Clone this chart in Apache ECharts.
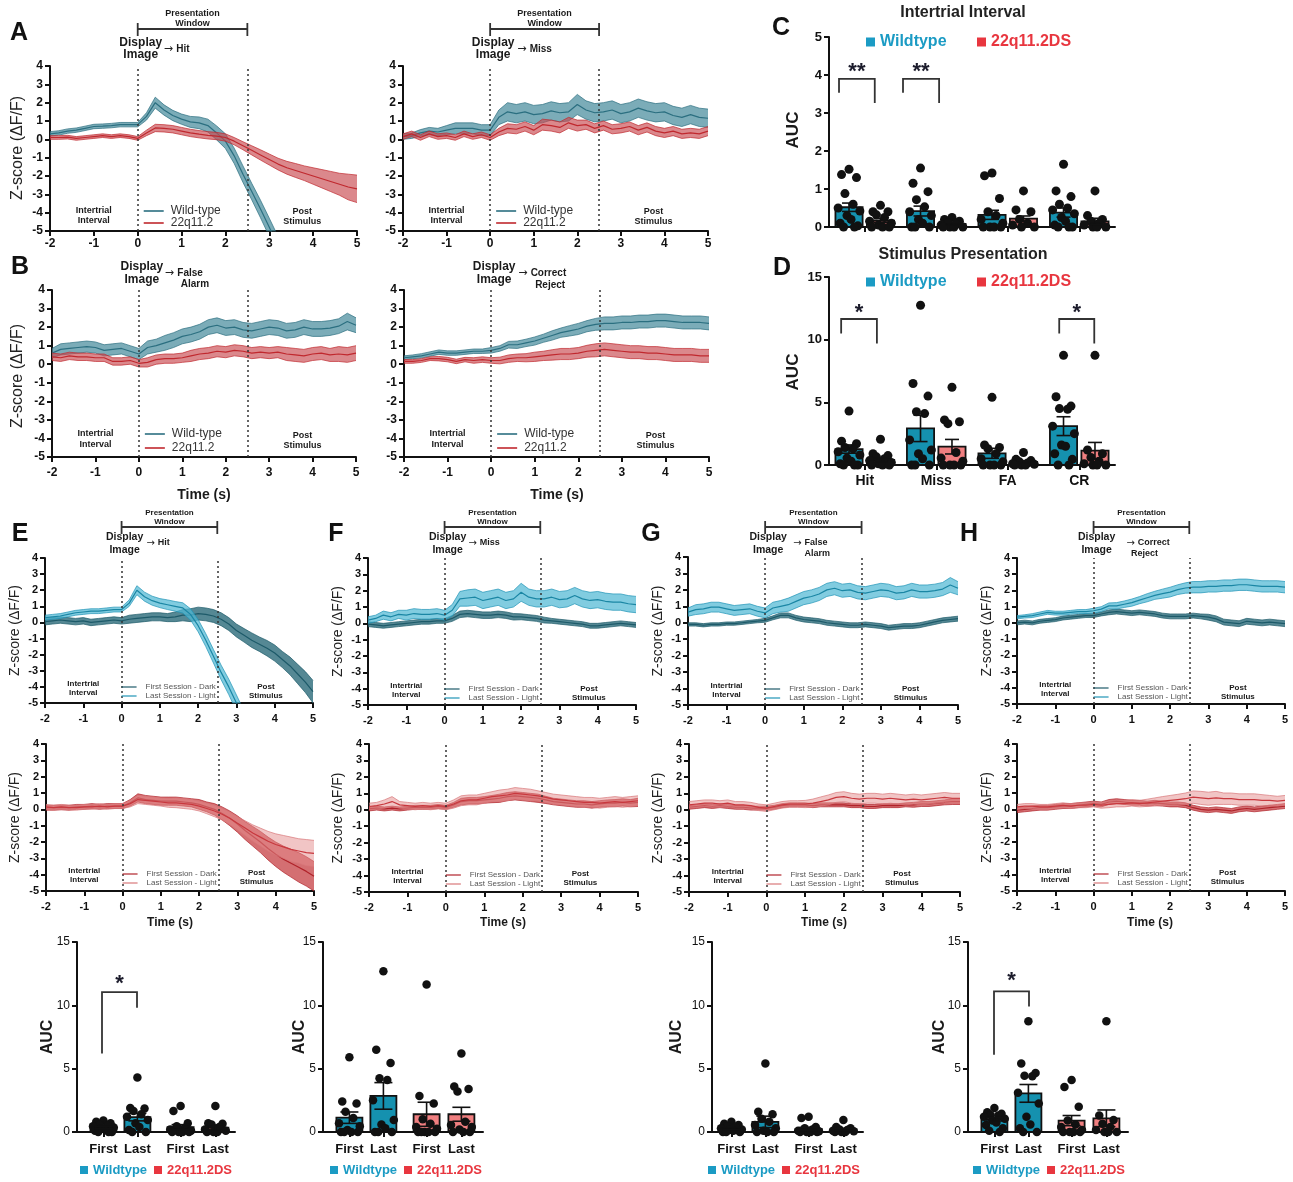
<!DOCTYPE html>
<html><head><meta charset="utf-8">
<script src="https://cdn.jsdelivr.net/npm/echarts@6/dist/echarts.min.js"></script>
<style>html,body{margin:0;padding:0;background:#fff}#main{width:1293px;height:1182px}</style>
</head><body><div id="main"></div>
<script>
// ---------------- DATA ----------------
const TIME = [-2,-1.8,-1.6,-1.4,-1.2,-1,-0.8,-0.6,-0.4,-0.2,0,0.2,0.4,0.6,0.8,1,1.2,1.4,1.6,1.8,2,2.2,2.4,2.6,2.8,3,3.2,3.4,3.6,3.8,4,4.2,4.4,4.6,4.8,5];
const OUTCOMES = ['Hit','Miss','FA','CR'];
const SESSIONS = ['First','Last','First','Last'];

// Panel A - Hit
const A_HIT_WT = [0.3,0.35,0.45,0.5,0.6,0.7,0.72,0.75,0.8,0.8, 0.8,1.25,2.0,1.6,1.3,1.1,0.95,0.9,0.75,0.35, -0.1,-0.9,-1.9,-2.85,-3.8,-4.8,-5.8,null,null,null, null,null,null,null,null,null];
const A_HIT_WT_SEM = [0.12,0.12,0.12,0.12,0.12,0.12,0.12,0.12,0.12,0.12, 0.12,0.2,0.3,0.28,0.28,0.28,0.3,0.32,0.35,0.38, 0.4,0.42,0.45,0.45,0.48,0.5,0.5,null,null,null, null,null,null,null,null,null];
const A_HIT_22Q = [0.1,0.1,0.12,0.05,0.1,0.15,0.2,0.15,0.2,0.15, 0.05,0.35,0.62,0.6,0.55,0.45,0.35,0.28,0.22,0.18, 0.1,-0.1,-0.35,-0.6,-0.85,-1.1,-1.35,-1.55,-1.7,-1.85, -2.0,-2.15,-2.3,-2.45,-2.6,-2.7];
const A_HIT_22Q_SEM = [0.1,0.1,0.1,0.1,0.1,0.1,0.1,0.1,0.1,0.1, 0.1,0.15,0.2,0.2,0.2,0.2,0.2,0.2,0.2,0.2, 0.2,0.2,0.22,0.25,0.28,0.3,0.32,0.35,0.38,0.4, 0.45,0.5,0.55,0.6,0.7,0.75];
// Panel A - Miss
const A_MISS_WT = [0.15,0.2,0.35,0.45,0.4,0.5,0.6,0.6,0.6,0.5, 0.5,1.2,1.5,1.4,1.5,1.35,1.4,1.55,1.45,1.5, 1.9,1.6,1.45,1.5,1.6,1.4,1.5,1.7,1.55,1.45, 1.5,1.3,1.2,1.35,1.2,1.15];
const A_MISS_WT_SEM = [0.15,0.15,0.18,0.2,0.2,0.25,0.3,0.3,0.3,0.3, 0.3,0.4,0.5,0.5,0.5,0.5,0.5,0.5,0.5,0.5, 0.55,0.5,0.5,0.5,0.5,0.5,0.5,0.5,0.5,0.5, 0.5,0.5,0.5,0.5,0.5,0.5];
const A_MISS_22Q = [0.15,0.3,0.1,0.3,0.15,0.2,0.1,0.3,0.15,0.25, 0.1,0.4,0.6,0.55,0.7,0.5,0.8,0.75,0.65,0.9, 0.75,0.8,0.6,0.75,0.55,0.6,0.7,0.5,0.65,0.45, 0.35,0.45,0.3,0.35,0.3,0.45];
const A_MISS_22Q_SEM = [0.15,0.15,0.15,0.15,0.15,0.15,0.15,0.15,0.15,0.15, 0.15,0.2,0.25,0.25,0.25,0.25,0.3,0.3,0.3,0.3, 0.3,0.25,0.25,0.25,0.25,0.25,0.25,0.25,0.25,0.25, 0.25,0.25,0.25,0.25,0.25,0.25];
// Panel B - False Alarm
const B_FA_WT = [0.6,0.8,0.85,0.9,0.95,0.9,0.75,0.8,0.85,0.7, 0.55,0.9,1.0,1.15,1.3,1.5,1.6,1.75,2.0,2.1, 1.95,2.0,1.85,1.8,1.9,2.0,1.95,1.8,1.85,2.0, 1.9,1.9,1.95,2.05,2.3,2.1];
const B_FA_WT_SEM = [0.25,0.3,0.3,0.3,0.3,0.3,0.3,0.3,0.3,0.3, 0.3,0.35,0.35,0.4,0.4,0.4,0.4,0.4,0.4,0.4, 0.4,0.4,0.4,0.4,0.4,0.4,0.4,0.4,0.4,0.4, 0.4,0.4,0.4,0.4,0.45,0.4];
const B_FA_22Q = [0.4,0.35,0.45,0.4,0.4,0.35,0.35,0.15,0.15,0.2, 0.05,0.1,0.25,0.3,0.3,0.35,0.45,0.55,0.6,0.7, 0.65,0.75,0.7,0.6,0.65,0.6,0.65,0.55,0.5,0.45, 0.55,0.6,0.5,0.55,0.5,0.6];
const B_FA_22Q_SEM = [0.2,0.2,0.2,0.2,0.2,0.2,0.2,0.2,0.2,0.2, 0.2,0.25,0.25,0.25,0.25,0.25,0.3,0.3,0.3,0.3, 0.3,0.3,0.3,0.3,0.3,0.3,0.3,0.35,0.35,0.35, 0.35,0.35,0.35,0.4,0.4,0.4];
// Panel B - Correct Reject
const B_CR_WT = [0.35,0.4,0.45,0.55,0.65,0.6,0.6,0.65,0.7,0.7, 0.75,0.85,1.05,1.05,1.15,1.25,1.4,1.55,1.7,1.8, 1.9,2.05,2.15,2.2,2.2,2.25,2.25,2.3,2.3,2.35, 2.35,2.3,2.25,2.25,2.25,2.2];
const B_CR_WT_SEM = [0.1,0.1,0.12,0.12,0.12,0.12,0.12,0.12,0.12,0.12, 0.15,0.15,0.18,0.2,0.2,0.22,0.22,0.25,0.25,0.28, 0.3,0.3,0.32,0.35,0.35,0.35,0.35,0.35,0.35,0.35, 0.35,0.35,0.35,0.35,0.35,0.35];
const B_CR_22Q = [0.15,0.15,0.2,0.3,0.3,0.25,0.15,0.25,0.2,0.25, 0.2,0.2,0.3,0.35,0.35,0.4,0.45,0.5,0.55,0.55, 0.6,0.7,0.75,0.8,0.75,0.7,0.65,0.65,0.6,0.6, 0.55,0.5,0.5,0.5,0.45,0.45];
const B_CR_22Q_SEM = [0.1,0.1,0.1,0.1,0.12,0.12,0.12,0.12,0.15,0.15, 0.15,0.18,0.2,0.2,0.22,0.25,0.25,0.28,0.3,0.3, 0.3,0.32,0.35,0.35,0.35,0.35,0.35,0.35,0.35,0.35, 0.35,0.35,0.35,0.35,0.35,0.35];

// Panel E - Hit, first vs last session
const E_WT_FIRST = [0.05,0.1,0.15,0.1,0.05,0.1,0.0,0.05,0.1,0.15, 0.1,0.2,0.25,0.3,0.35,0.35,0.3,0.35,0.45,0.45, 0.55,0.5,0.4,0.2,-0.1,-0.5,-0.8,-1.1,-1.35,-1.6, -1.9,-2.3,-2.7,-3.2,-3.7,-4.3];
const E_WT_FIRST_SEM = [0.2,0.2,0.2,0.2,0.2,0.2,0.2,0.2,0.2,0.2, 0.2,0.25,0.25,0.25,0.25,0.25,0.25,0.3,0.35,0.4, 0.4,0.4,0.4,0.4,0.4,0.4,0.42,0.45,0.45,0.48, 0.5,0.5,0.55,0.6,0.65,0.7];
const E_WT_LAST = [0.3,0.35,0.4,0.5,0.6,0.65,0.7,0.7,0.75,0.8, 0.8,1.2,2.0,1.6,1.35,1.2,1.1,1.0,0.9,0.5, -0.2,-1.1,-2.1,-3.1,-4.0,-5.0,-6.0,null,null,null, null,null,null,null,null,null];
const E_WT_LAST_SEM = [0.15,0.15,0.15,0.15,0.15,0.15,0.15,0.15,0.15,0.15, 0.15,0.2,0.28,0.28,0.28,0.28,0.3,0.3,0.32,0.35, 0.38,0.4,0.42,0.45,0.48,0.5,0.5,null,null,null, null,null,null,null,null,null];
const E_22Q_FIRST = [0.1,0.1,0.12,0.1,0.15,0.15,0.2,0.15,0.2,0.2, 0.2,0.4,0.7,0.6,0.55,0.5,0.5,0.5,0.45,0.4, 0.3,0.15,0.0,-0.25,-0.55,-0.9,-1.3,-1.65,-2.0,-2.4, -2.75,-3.05,-3.3,-3.55,-3.8,-4.1];
const E_22Q_FIRST_SEM = [0.15,0.15,0.15,0.15,0.15,0.15,0.15,0.15,0.15,0.15, 0.15,0.2,0.25,0.25,0.25,0.25,0.25,0.25,0.25,0.25, 0.3,0.3,0.35,0.4,0.45,0.5,0.55,0.6,0.65,0.7, 0.75,0.8,0.85,0.9,0.9,0.9];
const E_22Q_LAST = [0.15,0.1,0.15,0.1,0.1,0.15,0.15,0.2,0.15,0.2, 0.2,0.35,0.6,0.55,0.5,0.45,0.4,0.4,0.35,0.3, 0.2,0.05,-0.1,-0.3,-0.55,-0.85,-1.15,-1.45,-1.7,-1.95, -2.15,-2.3,-2.45,-2.55,-2.65,-2.7];
const E_22Q_LAST_SEM = [0.15,0.15,0.15,0.15,0.15,0.15,0.15,0.15,0.15,0.15, 0.15,0.2,0.25,0.25,0.25,0.25,0.28,0.3,0.3,0.3, 0.3,0.32,0.35,0.35,0.38,0.4,0.45,0.5,0.55,0.6, 0.65,0.7,0.75,0.75,0.8,0.8];
// Panel F - Miss
const F_WT_FIRST = [-0.05,-0.1,-0.15,-0.1,-0.05,0.0,0.05,0.1,0.1,0.15, 0.15,0.3,0.55,0.6,0.55,0.5,0.5,0.55,0.5,0.4, 0.4,0.35,0.3,0.2,0.15,0.1,0.05,0.0,-0.05,-0.15, -0.15,-0.1,-0.05,0.0,-0.05,-0.1];
const F_WT_FIRST_SEM = [0.15,0.15,0.15,0.15,0.15,0.15,0.15,0.15,0.15,0.15, 0.15,0.18,0.2,0.2,0.2,0.2,0.2,0.2,0.2,0.2, 0.18,0.18,0.18,0.18,0.15,0.15,0.15,0.15,0.15,0.15, 0.15,0.15,0.15,0.15,0.15,0.15];
const F_WT_LAST = [0.2,0.3,0.5,0.4,0.55,0.5,0.6,0.55,0.55,0.6, 0.5,0.8,1.5,1.55,1.6,1.4,1.5,1.6,1.4,1.5, 1.9,1.6,1.5,1.5,1.6,1.45,1.5,1.7,1.5,1.4, 1.45,1.35,1.3,1.3,1.2,1.15];
const F_WT_LAST_SEM = [0.2,0.2,0.25,0.25,0.25,0.3,0.3,0.3,0.3,0.3, 0.3,0.35,0.45,0.5,0.5,0.5,0.5,0.5,0.5,0.5, 0.55,0.5,0.5,0.5,0.5,0.5,0.5,0.5,0.5,0.5, 0.5,0.5,0.5,0.5,0.5,0.5];
const F_22Q_FIRST = [0.05,0.1,0.05,0.1,0.05,0.1,0.15,0.15,0.15,0.2, 0.15,0.3,0.5,0.55,0.55,0.6,0.65,0.7,0.8,0.85, 0.8,0.75,0.7,0.6,0.5,0.45,0.4,0.35,0.35,0.3, 0.35,0.4,0.4,0.45,0.4,0.45];
const F_22Q_FIRST_SEM = [0.12,0.12,0.12,0.12,0.12,0.12,0.12,0.12,0.12,0.12, 0.12,0.15,0.2,0.2,0.2,0.2,0.22,0.25,0.25,0.25, 0.25,0.25,0.25,0.22,0.2,0.2,0.2,0.2,0.2,0.2, 0.2,0.2,0.22,0.22,0.22,0.25];
const F_22Q_LAST = [0.2,0.25,0.35,0.5,0.3,0.25,0.2,0.25,0.2,0.25, 0.2,0.35,0.55,0.6,0.6,0.7,0.8,0.85,0.9,1.0, 0.95,0.9,0.85,0.75,0.65,0.6,0.55,0.5,0.45,0.45, 0.4,0.45,0.5,0.45,0.5,0.55];
const F_22Q_LAST_SEM = [0.2,0.2,0.25,0.3,0.2,0.2,0.2,0.2,0.2,0.2, 0.2,0.25,0.3,0.3,0.3,0.3,0.3,0.35,0.35,0.35, 0.35,0.35,0.3,0.3,0.3,0.3,0.3,0.3,0.3,0.3, 0.3,0.3,0.3,0.3,0.3,0.3];
// Panel G - False Alarm
const G_WT_FIRST = [-0.1,-0.1,-0.15,-0.1,-0.1,-0.05,-0.05,0.0,0.05,0.1, 0.15,0.3,0.45,0.45,0.3,0.2,0.15,0.1,0.0,-0.05, -0.1,-0.15,-0.15,-0.1,-0.15,-0.2,-0.3,-0.25,-0.2,-0.2, -0.15,-0.05,0.05,0.15,0.2,0.25];
const G_WT_FIRST_SEM = [0.1,0.1,0.1,0.1,0.1,0.1,0.1,0.1,0.1,0.1, 0.12,0.12,0.15,0.15,0.15,0.15,0.15,0.15,0.15,0.15, 0.15,0.15,0.15,0.15,0.15,0.15,0.15,0.15,0.15,0.15, 0.15,0.15,0.15,0.15,0.15,0.15];
const G_WT_LAST = [0.65,0.8,0.85,0.95,0.95,0.85,0.75,0.8,0.85,0.7, 0.6,0.9,1.0,1.1,1.3,1.5,1.6,1.75,2.0,2.1, 1.95,2.0,1.85,1.8,1.9,2.0,1.95,1.8,1.85,2.0, 1.9,1.9,1.95,2.05,2.3,2.1];
const G_WT_LAST_SEM = [0.25,0.3,0.3,0.3,0.3,0.3,0.3,0.3,0.3,0.3, 0.3,0.35,0.35,0.4,0.4,0.4,0.4,0.4,0.4,0.4, 0.4,0.4,0.4,0.4,0.4,0.4,0.4,0.4,0.4,0.4, 0.4,0.4,0.4,0.4,0.45,0.4];
const G_22Q_FIRST = [0.15,0.2,0.25,0.2,0.25,0.2,0.15,0.15,0.1,0.1, 0.1,0.15,0.25,0.3,0.3,0.3,0.25,0.3,0.3,0.3, 0.3,0.25,0.25,0.2,0.2,0.25,0.25,0.25,0.3,0.3, 0.35,0.35,0.4,0.45,0.5,0.5];
const G_22Q_FIRST_SEM = [0.12,0.12,0.12,0.12,0.12,0.12,0.12,0.12,0.12,0.12, 0.12,0.12,0.12,0.12,0.12,0.12,0.12,0.12,0.12,0.12, 0.12,0.12,0.12,0.12,0.12,0.12,0.12,0.12,0.12,0.15, 0.15,0.15,0.15,0.15,0.18,0.18];
const G_22Q_LAST = [0.3,0.35,0.4,0.4,0.35,0.4,0.3,0.3,0.25,0.15, 0.1,0.2,0.3,0.35,0.35,0.35,0.4,0.5,0.6,0.75, 0.8,0.7,0.65,0.7,0.7,0.65,0.7,0.65,0.6,0.65, 0.6,0.65,0.7,0.75,0.7,0.7];
const G_22Q_LAST_SEM = [0.2,0.2,0.2,0.2,0.2,0.2,0.2,0.2,0.2,0.2, 0.2,0.2,0.2,0.2,0.2,0.22,0.25,0.28,0.3,0.3, 0.3,0.3,0.3,0.3,0.3,0.3,0.3,0.3,0.3,0.3, 0.3,0.3,0.3,0.3,0.3,0.3];
// Panel H - Correct Reject
const H_WT_FIRST = [0.0,0.05,0.0,0.1,0.15,0.2,0.3,0.35,0.4,0.45, 0.45,0.55,0.65,0.7,0.65,0.6,0.65,0.6,0.55,0.45, 0.4,0.4,0.4,0.45,0.4,0.35,0.25,0.05,0.0,-0.05, 0.1,0.05,0.0,0.05,0.0,-0.05];
const H_WT_FIRST_SEM = [0.12,0.12,0.12,0.12,0.12,0.12,0.12,0.12,0.12,0.12, 0.12,0.12,0.15,0.15,0.15,0.15,0.15,0.15,0.15,0.15, 0.15,0.15,0.15,0.15,0.15,0.18,0.18,0.18,0.18,0.18, 0.18,0.18,0.18,0.18,0.18,0.18];
const H_WT_LAST = [0.35,0.4,0.45,0.55,0.65,0.6,0.6,0.65,0.7,0.7, 0.75,0.85,1.05,1.05,1.15,1.25,1.4,1.55,1.7,1.8, 1.9,2.05,2.15,2.2,2.2,2.25,2.25,2.3,2.3,2.35, 2.35,2.3,2.25,2.25,2.25,2.2];
const H_WT_LAST_SEM = [0.1,0.1,0.12,0.12,0.12,0.12,0.12,0.12,0.12,0.12, 0.15,0.15,0.18,0.2,0.2,0.22,0.22,0.25,0.25,0.28, 0.3,0.3,0.32,0.35,0.35,0.35,0.35,0.35,0.35,0.35, 0.35,0.35,0.35,0.35,0.35,0.35];
const H_22Q_FIRST = [-0.05,0.0,0.05,0.1,0.1,0.15,0.2,0.2,0.25,0.3, 0.35,0.3,0.45,0.5,0.45,0.4,0.4,0.35,0.4,0.35, 0.3,0.3,0.25,0.1,0.0,-0.05,0.0,-0.05,-0.1,0.0, 0.05,0.0,0.05,0.1,0.15,0.2];
const H_22Q_FIRST_SEM = [0.15,0.15,0.15,0.15,0.15,0.15,0.15,0.15,0.15,0.15, 0.15,0.15,0.15,0.15,0.15,0.15,0.15,0.15,0.15,0.15, 0.15,0.15,0.15,0.15,0.15,0.15,0.15,0.15,0.15,0.15, 0.15,0.15,0.15,0.15,0.15,0.15];
const H_22Q_LAST = [0.15,0.2,0.2,0.15,0.15,0.2,0.25,0.2,0.25,0.25, 0.3,0.25,0.3,0.35,0.35,0.4,0.35,0.4,0.45,0.5, 0.55,0.6,0.65,0.75,0.7,0.65,0.7,0.65,0.65,0.6, 0.6,0.6,0.55,0.55,0.5,0.55];
const H_22Q_LAST_SEM = [0.15,0.15,0.15,0.15,0.15,0.15,0.15,0.15,0.15,0.15, 0.15,0.18,0.2,0.2,0.2,0.2,0.2,0.22,0.25,0.28, 0.3,0.32,0.35,0.38,0.4,0.4,0.4,0.35,0.35,0.35, 0.35,0.35,0.35,0.3,0.3,0.3];

// Panel C - AUC intertrial interval
const C_WT_MEAN = [0.52,0.42,0.32,0.38];
const C_WT_SEM = [0.11,0.13,0.12,0.12];
const C_22Q_MEAN = [0.17,0.08,0.22,0.15];
const C_22Q_SEM = [0.05,0.03,0.07,0.08];
const C_WT_PTS = [[1.52,1.38,1.3,0.88,0.6,0.5,0.42,0.3,0.2,0.1,0.03,0,0],[1.55,1.15,0.93,0.72,0.53,0.4,0.3,0.2,0.1,0,0,0],[1.42,1.35,0.75,0.4,0.3,0.2,0.1,0,0,0,0],[1.65,0.95,0.8,0.6,0.5,0.45,0.35,0.25,0.15,0.05,0,0,0]];
const C_22Q_PTS = [[0.57,0.4,0.4,0.32,0.25,0.15,0.1,0.05,0,0,0],[0.25,0.2,0.15,0.12,0.08,0.05,0,0,0,0],[0.95,0.45,0.4,0.2,0.1,0.05,0,0],[0.95,0.3,0.2,0.15,0.1,0.05,0,0,0]];
// Panel D - AUC stimulus presentation
const D_WT_MEAN = [1.27,2.92,0.93,3.1];
const D_WT_SEM = [0.33,1.05,0.4,0.75];
const D_22Q_MEAN = [0.4,1.46,0.25,1.14];
const D_22Q_SEM = [0.15,0.58,0.1,0.66];
const D_WT_PTS = [[4.3,1.9,1.7,1.4,1.3,1.05,0.8,0.55,0.3,0.1,0,0,0],[12.75,6.5,5.5,4.25,4.1,2.0,1.2,0.9,0.5,0,0,0],[5.4,1.6,1.4,1.3,0.9,0.5,0.25,0,0,0,0],[8.75,5.45,4.7,4.5,4.45,3.1,2.5,1.6,1.5,0.9,0.45,0,0]];
const D_22Q_PTS = [[2.05,0.9,0.75,0.65,0.5,0.35,0.2,0.1,0,0,0],[6.2,3.6,3.45,3.3,1.0,0.55,0.3,0,0,0,0],[1.0,0.45,0.35,0.25,0.15,0.1,0.05,0,0,0],[8.75,1.2,0.9,0.6,0.3,0.1,0,0,0]];
// Panels E-H - AUC first vs last (WT first, WT last, 22q first, 22q last)
const E_MEAN = [0.35,1.18,0.38,0.35];
const E_SEM = [0.08,0.3,0.2,0.2];
const E_PTS = [[0.9,0.8,0.7,0.6,0.5,0.45,0.35,0.3,0.2,0.1,0,0,0],[4.3,1.9,1.85,1.65,1.4,1.2,0.95,0.7,0.4,0.15,0,0],[2.05,1.65,0.7,0.45,0.3,0.2,0.1,0,0,0,0],[2.05,0.7,0.65,0.6,0.4,0.2,0.1,0,0,0]];
const F_MEAN = [1.13,2.85,1.4,1.4];
const F_SEM = [0.45,1.05,0.95,0.55];
const F_PTS = [[5.9,2.4,2.25,1.6,1.1,0.7,0.45,0.15,0,0,0,0],[12.7,6.5,5.45,4.25,4.1,2.5,0.95,0.6,0.3,0,0,0],[11.65,2.85,2.25,1.0,0.65,0.4,0.25,0,0,0,0,0],[6.2,3.6,3.4,3.2,0.8,0.55,0.4,0.2,0,0,0]];
const G_MEAN = [0.25,0.8,0.25,0.2];
const G_SEM = [0.07,0.45,0.12,0.09];
const G_PTS = [[0.8,0.65,0.55,0.45,0.4,0.3,0.2,0.15,0.1,0,0,0],[5.4,1.6,1.4,1.05,0.8,0.55,0.3,0.1,0,0,0],[1.2,1.1,0.4,0.3,0.2,0.1,0.05,0,0,0,0],[0.95,0.4,0.3,0.2,0.15,0.1,0.05,0,0,0]];
const H_MEAN = [1.0,3.05,0.9,1.08];
const H_SEM = [0.13,0.7,0.4,0.66];
const H_PTS = [[1.9,1.55,1.45,1.35,1.3,1.2,1.05,0.9,0.75,0.55,0.3,0.1,0],[8.75,5.4,4.65,4.45,4.4,3.1,2.25,1.2,0.6,0.3,0,0],[4.1,3.55,2.0,0.9,0.6,0.4,0.15,0,0,0,0],[8.75,1.3,0.95,0.65,0.4,0.15,0,0,0]];

// ---------------- STYLE ----------------
const FONT = '"Liberation Sans", Arial, Helvetica, sans-serif';
const ARROW_FONT = '"DejaVu Sans", "Liberation Sans", sans-serif';
const COL = {
  wt:   {line:'#2b6f80', band:'rgba(72,140,156,0.72)', edge:'#2b6f80'},
  q:    {line:'#c0282e', band:'rgba(200,75,80,0.66)', edge:'#c0282e'},
  dark: {line:'#1d5a69', band:'rgba(48,110,125,0.82)', edge:'#1d5a69'},
  light:{line:'#1a86a4', band:'rgba(80,185,212,0.72)', edge:'#1f94b6'},
  rdark:{line:'#b0232a', band:'rgba(196,55,60,0.72)', edge:'#b0232a'},
  rlight:{line:'#c8383e', band:'rgba(228,140,140,0.5)', edge:'#d9777a'}
};
const BAR_WT = '#1591af', BAR_Q = '#f07f80';
const TXT_WT = '#1b9bc4', TXT_Q = '#e8363f';
const JIT = [0,-0.55,0.55,-0.3,0.3,-0.8,0.8,-0.15,0.15,-0.65,0.65,-0.4,0.4,-0.9,0.9];

const grid = [], xAxis = [], yAxis = [], series = [], graphic = [];

function axisBase(fs, margin, weight) {
  return {
    axisLine: {show: true, onZero: false, lineStyle: {color: '#111', width: 2}},
    axisTick: {show: true, length: 5, lineStyle: {color: '#111', width: 2}},
    axisLabel: {color: '#111', fontWeight: weight || 'bold', fontSize: fs, fontFamily: FONT, margin: margin},
    splitLine: {show: false}
  };
}

function lineGrid(g, curves, fs, xm) {
  const gi = grid.length;
  grid.push({left: g[0], top: g[1], width: g[2], height: g[3]});
  const xa = axisBase(fs, xm);
  xa.axisLabel.interval = 4; xa.axisTick.interval = 4;
  const xi = xAxis.length;
  xAxis.push(Object.assign({gridIndex: gi, type: 'category', boundaryGap: false, data: TIME.map(String)}, xa));
  const xv = xAxis.length;
  xAxis.push({gridIndex: gi, type: 'value', min: -2, max: 5, show: false});
  const yi = yAxis.length;
  yAxis.push(Object.assign({gridIndex: gi, type: 'value', min: -5, max: 4, interval: 1}, axisBase(fs, 7)));
  curves.forEach((c, ci) => {
    const st = 'band' + gi + '_' + ci;
    series.push({type: 'line', xAxisIndex: xi, yAxisIndex: yi, stack: st, stackStrategy: 'all', symbol: 'none', silent: true, z: 2 + ci,
      data: c.mean.map((m, i) => m == null ? null : +(m - c.sem[i]).toFixed(3)),
      lineStyle: {width: 0.7, color: c.col.edge}});
    series.push({type: 'line', xAxisIndex: xi, yAxisIndex: yi, stack: st, stackStrategy: 'all', symbol: 'none', silent: true, z: 2 + ci,
      data: c.sem.map(s => s == null ? null : +(2 * s).toFixed(3)),
      lineStyle: {width: 0.7, color: c.col.edge}, areaStyle: {color: c.col.band, opacity: 1}});
    series.push({type: 'line', xAxisIndex: xi, yAxisIndex: yi, symbol: 'none', silent: true, z: 2 + ci,
      data: c.mean, lineStyle: {width: 1.2, color: c.col.line}});
  });
  series.push({type: 'line', xAxisIndex: xv, yAxisIndex: yi, data: [], silent: true, z: 10,
    markLine: {silent: true, symbol: ['none', 'none'], label: {show: false}, animation: false,
      lineStyle: {type: [2, 3], color: '#333', width: 1.5}, data: [{xAxis: 0}, {xAxis: 2.5}]}});
}

function barGrid(g, o) {
  const gi = grid.length;
  grid.push({left: g[0], top: g[1], width: g[2], height: g[3]});
  const xa = axisBase(o.xfs || 13, o.xm || 9);
  xa.axisTick.customValues = o.ticks;
  xa.axisLabel.customValues = o.ticks;
  xa.axisLabel.show = !!o.labels;
  xa.axisLabel.formatter = v => { const k = o.ticks.findIndex(p => Math.abs(p - v) < 1e-6); return (k >= 0 && o.labels) ? o.labels[k] : ''; };
  const xi = xAxis.length;
  xAxis.push(Object.assign({gridIndex: gi, type: 'value', min: o.xmin, max: o.xmax}, xa));
  const yi = yAxis.length;
  yAxis.push(Object.assign({gridIndex: gi, type: 'value', min: 0, max: o.ymax, interval: o.yint}, axisBase(o.yfs, 7, o.yw)));
  series.push({type: 'custom', xAxisIndex: xi, yAxisIndex: yi, z: 2, clip: false, silent: true,
    data: o.pos.map((p, i) => [p, o.mean[i], i]),
    renderItem: (params, api) => {
      const x = api.value(0), m = api.value(1), i = api.value(2);
      const a = api.coord([x - o.hw, m]), b = api.coord([x + o.hw, 0]);
      return {type: 'rect', shape: {x: a[0], y: a[1], width: b[0] - a[0], height: b[1] - a[1]},
        style: {fill: o.colors[i], stroke: '#111', lineWidth: 1.8}};
    }});
  const dots = [];
  o.pts.forEach((arr, i) => arr.forEach((v, k) => dots.push([o.pos[i] + JIT[k % JIT.length] * o.hw, v])));
  series.push({type: 'scatter', xAxisIndex: xi, yAxisIndex: yi, z: 3, clip: false, silent: true,
    symbolSize: o.dot, data: dots, itemStyle: {color: '#111', opacity: 1}});
  series.push({type: 'custom', xAxisIndex: xi, yAxisIndex: yi, z: 4, clip: false, silent: true,
    data: o.pos.map((p, i) => [p, o.mean[i], o.sem[i]]),
    renderItem: (params, api) => {
      const x = api.value(0), m = api.value(1), s = api.value(2);
      const t = api.coord([x, m + s]), b = api.coord([x, Math.max(0, m - s)]);
      const st = {stroke: '#111', lineWidth: 1.6};
      return {type: 'group', children: [
        {type: 'line', shape: {x1: t[0], y1: t[1], x2: b[0], y2: b[1]}, style: st},
        {type: 'line', shape: {x1: t[0] - o.cap, y1: t[1], x2: t[0] + o.cap, y2: t[1]}, style: st},
        {type: 'line', shape: {x1: b[0] - o.cap, y1: b[1], x2: b[0] + o.cap, y2: b[1]}, style: st}
      ]};
    }});
  if (o.brackets) {
    series.push({type: 'custom', xAxisIndex: xi, yAxisIndex: yi, z: 5, clip: false, silent: true,
      data: o.brackets.map((b, i) => [b[0], b[1], b[2], b[3], b[4], b[5], i]),
      renderItem: (params, api) => {
        const x1 = api.value(0), x2 = api.value(1), yl = api.value(2), yt = api.value(3), yr = api.value(4), ys = api.value(5), i = api.value(6);
        const a = api.coord([x1, yl]), b = api.coord([x1, yt]), c = api.coord([x2, yt]), d = api.coord([x2, yr]), s = api.coord([(x1 + x2) / 2, ys]);
        return {type: 'group', children: [
          {type: 'polyline', shape: {points: [a, b, c, d]}, style: {stroke: '#333', lineWidth: 1.8, fill: null}},
          {type: 'text', x: s[0], y: s[1] + 6, style: {text: o.stars[i], font: 'bold 22px ' + FONT, fill: '#1c1c2c', align: 'center', verticalAlign: 'middle'}}
        ]};
      }});
  }
}

// ---------------- GRAPHIC HELPERS ----------------
function txt(x, y, s, o) {
  o = o || {};
  graphic.push({type: 'text', x: x, y: y, rotation: o.rot || 0, silent: true, z: 100,
    style: {text: s, x: 0, y: 0, fill: o.c || '#1a1a1a', font: (o.w || 'bold') + ' ' + (o.s || 12) + 'px ' + (o.f || FONT),
      align: o.a || 'center', verticalAlign: 'middle', textAlign: o.a || 'center', textVerticalAlign: 'middle'}});
}
function seg(x1, y1, x2, y2, c, w) {
  graphic.push({type: 'line', silent: true, z: 100, shape: {x1: x1, y1: y1, x2: x2, y2: y2}, style: {stroke: c || '#222', lineWidth: w || 1.5}});
}
function box(x, y, w, h, c) {
  graphic.push({type: 'rect', silent: true, z: 100, shape: {x: x, y: y, width: w, height: h}, style: {fill: c}});
}
function xAt(g, t) { return g[0] + (t + 2) / 7 * g[2]; }

function header(g, o) {
  const x0 = xAt(g, 0), x25 = xAt(g, 2.5), xc = xAt(g, 1.25);
  if (o.pres) {
    txt(xc, o.pres[0], 'Presentation', {s: o.ps}); txt(xc, o.pres[1], 'Window', {s: o.ps});
    seg(x0, o.pres[2], x25, o.pres[2], '#333', 1.8);
    seg(x0, o.pres[2] - 6, x0, o.pres[2] + 7, '#333', 1.8);
    seg(x25, o.pres[2] - 6, x25, o.pres[2] + 7, '#333', 1.8);
  }
  txt(x0 + 3, o.disp[0], 'Display', {s: o.ds}); txt(x0 + 3, o.disp[1], 'Image', {s: o.ds});
  txt(x0 + o.adx, o.ay[0] + 0.5, '\u2192', {s: o.as + 1, a: 'left', w: 'normal', f: ARROW_FONT, c: '#222'});
  txt(x0 + o.adx + o.as * 1.25, o.ay[0], o.out1, {s: o.as, a: 'left'});
  if (o.out2) txt(x0 + o.o2x, o.ay[1], o.out2, {s: o.as});
}
function inner(g, o, leg) {
  const b = g[1] + g[3], x0 = xAt(g, 0);
  txt(xAt(g, -1), b + o.it[0], 'Intertrial', {s: o.fs}); txt(xAt(g, -1), b + o.it[1], 'Interval', {s: o.fs});
  txt(xAt(g, o.postT), b + o.po[0], 'Post', {s: o.fs}); txt(xAt(g, o.postT), b + o.po[1], 'Stimulus', {s: o.fs});
  leg.forEach((L, k) => {
    seg(x0 + o.lx[0], b + o.ly[k], x0 + o.lx[1], b + o.ly[k], L[1], o.lw);
    txt(x0 + o.lx[2], b + o.ly[k], L[0], {s: o.ls, w: 'normal', a: 'left', c: o.lc});
  });
}
function zlabel(x, y, s) { txt(x, y, 'Z-score (\u0394F/F)', {s: s, w: 'normal', rot: Math.PI / 2, c: '#222'}); }
function barLegend(x, y, fs, sq, gap) {
  box(x, y - sq / 2, sq, sq, TXT_WT); txt(x + sq + 5, y, 'Wildtype', {s: fs, a: 'left', c: TXT_WT});
  box(x + gap, y - sq / 2, sq, sq, TXT_Q); txt(x + gap + sq + 5, y, '22q11.2DS', {s: fs, a: 'left', c: TXT_Q});
}

// ---------------- PANELS A / B ----------------
const GA1 = [50, 66, 307, 165], GA2 = [403, 66, 305, 165], GB1 = [52, 290, 304, 167], GB2 = [404, 290, 305, 167];
lineGrid(GA1, [{mean: A_HIT_WT, sem: A_HIT_WT_SEM, col: COL.wt}, {mean: A_HIT_22Q, sem: A_HIT_22Q_SEM, col: COL.q}], 12, 7);
lineGrid(GA2, [{mean: A_MISS_WT, sem: A_MISS_WT_SEM, col: COL.wt}, {mean: A_MISS_22Q, sem: A_MISS_22Q_SEM, col: COL.q}], 12, 7);
lineGrid(GB1, [{mean: B_FA_WT, sem: B_FA_WT_SEM, col: COL.wt}, {mean: B_FA_22Q, sem: B_FA_22Q_SEM, col: COL.q}], 12, 10);
lineGrid(GB2, [{mean: B_CR_WT, sem: B_CR_WT_SEM, col: COL.wt}, {mean: B_CR_22Q, sem: B_CR_22Q_SEM, col: COL.q}], 12, 10);

const LEG_AB = [['Wild-type', COL.wt.line], ['22q11.2', COL.q.line]];
const INNER_A = {fs: 9, it: [-20, -10], po: [-19, -9], postT: 3.75, lx: [6, 26, 33], ly: [-20, -8], ls: 12, lw: 1.6, lc: '#333'};
const INNER_B = {fs: 9, it: [-23, -12], po: [-21, -11], postT: 3.77, lx: [6, 26, 33], ly: [-23, -9], ls: 12, lw: 1.6, lc: '#333'};
inner(GA1, INNER_A, LEG_AB); inner(GA2, INNER_A, LEG_AB);
inner(GB1, INNER_B, LEG_AB); inner(GB2, INNER_B, LEG_AB);
header(GA1, {pres: [14, 24, 29], ps: 9, disp: [43, 55], ds: 12, adx: 26, ay: [49], as: 10, out1: 'Hit'});
header(GA2, {pres: [14, 24, 29], ps: 9, disp: [43, 55], ds: 12, adx: 27, ay: [49], as: 10, out1: 'Miss'});
header(GB1, {disp: [267, 280], ds: 12, adx: 26, ay: [273, 284], as: 10, out1: 'False', out2: 'Alarm', o2x: 56});
header(GB2, {disp: [267, 280], ds: 12, adx: 27, ay: [273, 285], as: 10, out1: 'Correct', out2: 'Reject', o2x: 59});
zlabel(18, 148, 16); zlabel(18, 376, 16);
txt(204, 495, 'Time (s)', {s: 14}); txt(557, 495, 'Time (s)', {s: 14});

// ---------------- PANELS E-H (lines) ----------------
const LG = {
  E: [[45, 558, 268, 145], [46, 744, 268, 147]],
  F: [[368, 558, 268, 147], [369, 744, 269, 148]],
  G: [[688, 557, 270, 148], [689, 744, 271, 148]],
  H: [[1017, 558, 268, 146], [1017, 744, 268, 147]]
};
const SETS = {
  E: [[E_WT_FIRST, E_WT_FIRST_SEM, E_WT_LAST, E_WT_LAST_SEM], [E_22Q_FIRST, E_22Q_FIRST_SEM, E_22Q_LAST, E_22Q_LAST_SEM]],
  F: [[F_WT_FIRST, F_WT_FIRST_SEM, F_WT_LAST, F_WT_LAST_SEM], [F_22Q_FIRST, F_22Q_FIRST_SEM, F_22Q_LAST, F_22Q_LAST_SEM]],
  G: [[G_WT_FIRST, G_WT_FIRST_SEM, G_WT_LAST, G_WT_LAST_SEM], [G_22Q_FIRST, G_22Q_FIRST_SEM, G_22Q_LAST, G_22Q_LAST_SEM]],
  H: [[H_WT_FIRST, H_WT_FIRST_SEM, H_WT_LAST, H_WT_LAST_SEM], [H_22Q_FIRST, H_22Q_FIRST_SEM, H_22Q_LAST, H_22Q_LAST_SEM]]
};
const INNER_TOP = {fs: 8, it: [-19, -10], po: [-16, -7], postT: 3.77, lx: [0, 15, 24], ly: [-16, -7], ls: 8, lw: 1.2, lc: '#555'};
const INNER_BOT = {fs: 8, it: [-20, -11], po: [-18, -9], postT: 3.5, lx: [0, 15, 24], ly: [-17, -8], ls: 8, lw: 1.2, lc: '#555'};
const HEAD = {
  E: {adx: 25, out1: 'Hit'},
  F: {adx: 24, out1: 'Miss'},
  G: {adx: 28, out1: 'False', out2: 'Alarm', o2x: 52},
  H: {adx: 33, out1: 'Correct', out2: 'Reject', o2x: 51}
};
const ZX = {E: 15, F: 338, G: 658, H: 987};
const TX = {E: 170, F: 503, G: 824, H: 1150};
['E', 'F', 'G', 'H'].forEach(k => {
  const [gt, gb] = LG[k], [wt, rq] = SETS[k];
  lineGrid(gt, [{mean: wt[0], sem: wt[1], col: COL.dark}, {mean: wt[2], sem: wt[3], col: COL.light}], 11, 10);
  lineGrid(gb, [{mean: rq[0], sem: rq[1], col: COL.rdark}, {mean: rq[2], sem: rq[3], col: COL.rlight}], 11, 10);
  inner(gt, INNER_TOP, [['First Session - Dark', COL.dark.line], ['Last Session - Light', COL.light.edge]]);
  inner(gb, INNER_BOT, [['First Session - Dark', COL.rdark.line], ['Last Session - Light', COL.rlight.edge]]);
  const h = HEAD[k];
  header(gt, {pres: [513, 522, 527], ps: 8, disp: [537, 550], ds: 10.5, adx: h.adx, ay: [543, 554], as: 9, out1: h.out1, out2: h.out2, o2x: h.o2x});
  zlabel(ZX[k], gt[1] + gt[3] / 2, 14); zlabel(ZX[k], gb[1] + gb[3] / 2, 14);
  txt(TX[k], 923, 'Time (s)', {s: 12});
});

// ---------------- PANELS C / D ----------------
function interleave(a, b) { const r = []; a.forEach((v, i) => { r.push(v, b[i]); }); return r; }
const CD_POS = [-0.22, 0.22, 0.78, 1.22, 1.78, 2.22, 2.78, 3.22];
const CD_COLORS = [BAR_WT, BAR_Q, BAR_WT, BAR_Q, BAR_WT, BAR_Q, BAR_WT, BAR_Q];
barGrid([829, 37, 286, 190], {xmin: -0.5, xmax: 3.5, ticks: [0, 1, 2, 3], labels: null, ymax: 5, yint: 1, yfs: 13, yw: 'bold',
  pos: CD_POS, mean: interleave(C_WT_MEAN, C_22Q_MEAN), sem: interleave(C_WT_SEM, C_22Q_SEM), pts: interleave(C_WT_PTS, C_22Q_PTS),
  colors: CD_COLORS, hw: 0.19, dot: 9, cap: 7,
  brackets: [[-0.36, 0.14, 3.53, 3.9, 3.26, 4.25], [0.535, 1.04, 3.53, 3.9, 3.26, 4.25]], stars: ['**', '**']});
barGrid([829, 277, 286, 188], {xmin: -0.5, xmax: 3.5, ticks: [0, 1, 2, 3], labels: OUTCOMES, xfs: 14, xm: 9, ymax: 15, yint: 5, yfs: 13, yw: 'bold',
  pos: CD_POS, mean: interleave(D_WT_MEAN, D_22Q_MEAN), sem: interleave(D_WT_SEM, D_22Q_SEM), pts: interleave(D_WT_PTS, D_22Q_PTS),
  colors: CD_COLORS, hw: 0.19, dot: 9, cap: 7,
  brackets: [[-0.33, 0.17, 10.5, 11.65, 9.7, 12.6], [2.72, 3.21, 10.5, 11.65, 9.7, 12.6]], stars: ['*', '*']});
txt(963, 13, 'Intertrial Interval', {s: 16, c: '#222'});
txt(963, 255, 'Stimulus Presentation', {s: 16, c: '#222'});
barLegend(866, 42, 16, 9, 111); barLegend(866, 282, 16, 9, 111);
txt(793, 130, 'AUC', {s: 17, rot: Math.PI / 2}); txt(793, 372, 'AUC', {s: 17, rot: Math.PI / 2});

// ---------------- PANELS E-H (AUC bars) ----------------
const EH_POS = [0.66, 1.51, 2.59, 3.46];
const EH_COLORS = [BAR_WT, BAR_WT, BAR_Q, BAR_Q];
const EH = {
  E: {g: [77, 942, 158, 190], xmin: 0, xmax: 3.95, mean: E_MEAN, sem: E_SEM, pts: E_PTS, br: [[0.625, 1.5, 6.2, 11.05, 9.8, 12.15]], lx: 80, ax: 48},
  F: {g: [323, 942, 160, 190], xmin: 0, xmax: 4.0, mean: F_MEAN, sem: F_SEM, pts: F_PTS, br: null, lx: 330, ax: 300},
  G: {g: [712, 942, 151, 190], xmin: 0.175, xmax: 3.95, mean: G_MEAN, sem: G_SEM, pts: G_PTS, br: null, lx: 708, ax: 677},
  H: {g: [968, 942, 160, 190], xmin: 0, xmax: 4.0, mean: H_MEAN, sem: H_SEM, pts: H_PTS, br: [[0.65, 1.525, 6.1, 11.1, 9.9, 12.4]], lx: 973, ax: 940}
};
Object.keys(EH).forEach(k => {
  const p = EH[k];
  barGrid(p.g, {xmin: p.xmin, xmax: p.xmax, ticks: EH_POS, labels: SESSIONS, xfs: 13, xm: 11, ymax: 15, yint: 5, yfs: 12, yw: 'normal',
    pos: EH_POS, mean: p.mean, sem: p.sem, pts: p.pts, colors: EH_COLORS, hw: 0.325, dot: 8.5, cap: 9,
    brackets: p.br, stars: ['*']});
  barLegend(p.lx, 1170, 13, 8, 74);
  txt(p.ax, 1037, 'AUC', {s: 16, rot: Math.PI / 2});
});

// ---------------- PANEL LETTERS ----------------
[['A', 19, 33], ['B', 20, 267], ['C', 781, 28], ['D', 782, 268], ['E', 20, 534], ['F', 336, 534], ['G', 651, 534], ['H', 969, 534]]
  .forEach(L => txt(L[1], L[2], L[0], {s: 25, c: '#111'}));

const chart = echarts.init(document.getElementById('main'), null, {renderer: 'canvas', width: 1293, height: 1182});
chart.setOption({
  animation: false,
  backgroundColor: '#ffffff',
  textStyle: {fontFamily: FONT},
  grid: grid, xAxis: xAxis, yAxis: yAxis, series: series,
  graphic: {elements: graphic}
});
</script>
</body></html>
